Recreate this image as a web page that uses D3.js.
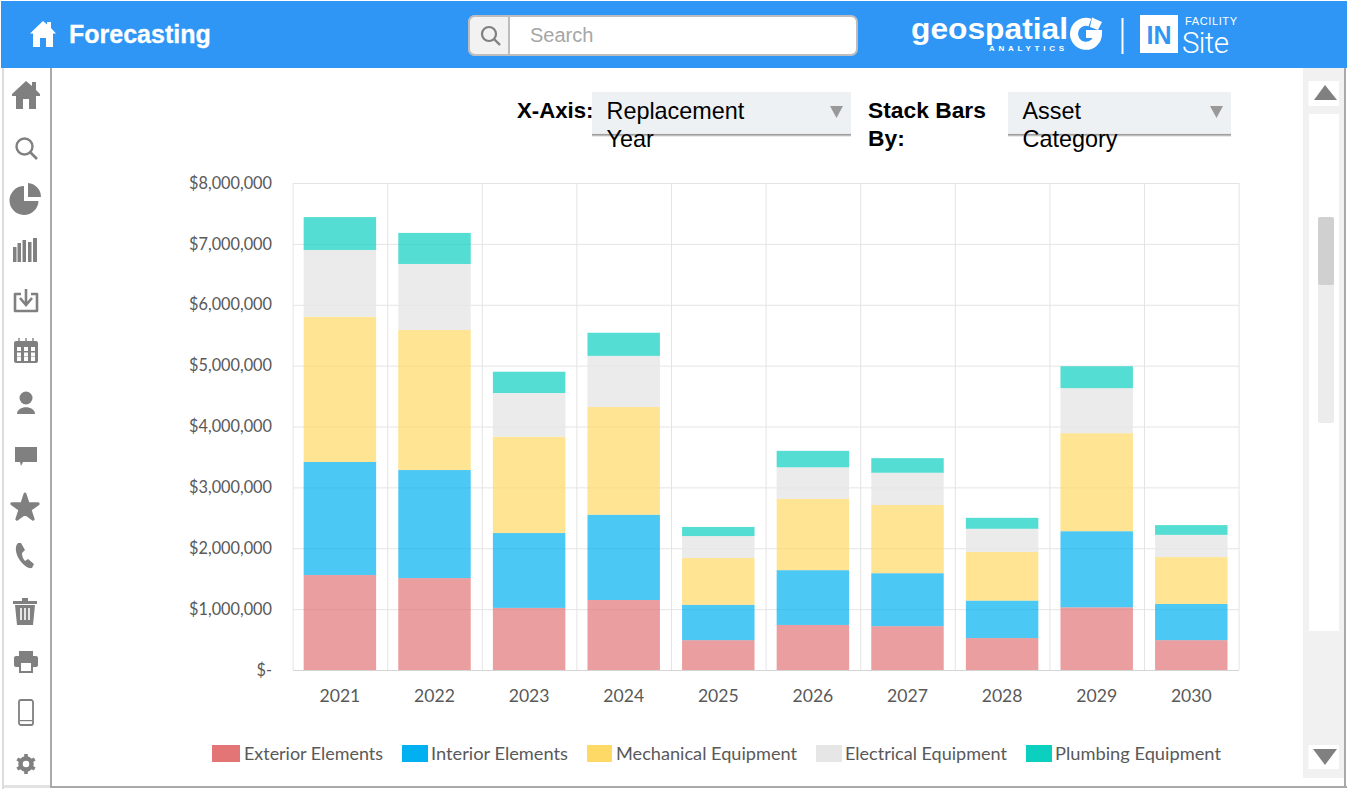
<!DOCTYPE html>
<html><head><meta charset="utf-8">
<script src="https://cdn.jsdelivr.net/npm/d3@7/dist/d3.min.js"></script>
<style>
html,body{margin:0;padding:0;background:#fff;overflow:hidden}
svg{display:block}
.ui{font-family:"Liberation Sans",Arial,sans-serif}
.chart text{font-family:Lato,sans-serif}
</style></head><body>
<svg id="c" width="1347" height="789" viewBox="0 0 1347 789"></svg>
<script>
const years = ["2021","2022","2023","2024","2025","2026","2027","2028","2029","2030"];
const seriesNames = ["Exterior Elements","Interior Elements","Mechanical Equipment","Electrical Equipment","Plumbing Equipment"];
const exterior   = [1560000,1510000,1020000,1150000,490000,740000,720000,525000,1030000,490000];
const interior   = [1857000,1775000,1230000,1400000,580000,900000,870000,615000,1250000,595000];
const mechanical = [2383000,2300000,1580000,1770000,770000,1170000,1120000,800000,1610000,770000];
const electrical = [1100000,1085000,720000,840000,360000,520000,530000,380000,740000,365000];
const plumbing   = [540000,510000,350000,380000,150000,270000,240000,180000,360000,160000];
const yTicks = [0,1000000,2000000,3000000,4000000,5000000,6000000,7000000,8000000];
const legendColors = ["#e37576","#00b0f0","#ffd966","#e7e6e6","#0bcfbf"];
const seriesValues = [exterior,interior,mechanical,electrical,plumbing];

const svg = d3.select("#c");
const rows = years.map((y,i)=>{const r={year:y};seriesNames.forEach((n,k)=>r[n]=seriesValues[k][i]);return r;});
const x = d3.scaleBand().domain(years).range([292.6,1238.6]).paddingInner(0.234).paddingOuter(0.117);
const band = d3.scaleBand().domain(years).range([292.6,1238.6]).padding(0);
const y = d3.scaleLinear().domain([0,8000000]).range([670,183]);

/* ---------- page frame ---------- */
const rect=(g,a,b,w,h,f)=>g.append("rect").attr("x",a).attr("y",b).attr("width",w).attr("height",h).attr("fill",f);
const frame = svg.append("g");
rect(frame,0,0,1347,789,"#fff");
rect(frame,1303,68,41,710,"#f1f1f1");
rect(frame,2,68,2,721,"#dcdcdc");
rect(frame,50,68,2,720,"#a9a9a9");
rect(frame,4,785,46,3,"#e2e2e2");
rect(frame,50,786,1297,2,"#a9a9a9");
rect(frame,1344,68,2,720,"#a9a9a9");
rect(frame,1,1,1346,67,"#2f96f5");

/* ---------- scrollbar ---------- */
const sb = svg.append("g");
rect(sb,1308.5,81,30.5,25,"#fff");
rect(sb,1309,114,30,517,"#fff");
rect(sb,1318,217,16,206,"#ececec").attr("rx",2);
rect(sb,1318,217,16,68,"#d0d0d0").attr("rx",2);
rect(sb,1308.5,745,30.5,24,"#fff");
sb.append("path").attr("d","M1314 100L1325 85L1337 100Z").attr("fill","#808080");
sb.append("path").attr("d","M1313 749H1337L1325 765Z").attr("fill","#808080");

/* ---------- header ---------- */
const hd = svg.append("g").attr("class","ui");
const homeD = "M13 0L17 3.5V1H21V7L26 12.5L23 12.5V26H16V17H10V26H3V12.5L0 12.5Z";
hd.append("path").attr("d",homeD).attr("transform","translate(30,21)").attr("fill","#fff");
hd.append("text").attr("x",69).attr("y",43).attr("font-size",25).attr("font-weight",700).attr("fill","#fff").attr("stroke","#fff").attr("stroke-width",.3).text("Forecasting");
rect(hd,469,16,388,39,"#fff").attr("rx",6).attr("stroke","#bdbdbd").attr("stroke-width",2);
hd.append("path").attr("d","M509 16H475a6 6 0 0 0 -6 6V49a6 6 0 0 0 6 6H509Z").attr("fill","#f2f2f2").attr("stroke","#bdbdbd").attr("stroke-width",2);
hd.append("circle").attr("cx",489).attr("cy",34).attr("r",7).attr("fill","none").attr("stroke","#808080").attr("stroke-width",2.2);
hd.append("line").attr("x1",494).attr("y1",39).attr("x2",500).attr("y2",45).attr("stroke","#808080").attr("stroke-width",2.4);
hd.append("text").attr("x",530).attr("y",42).attr("font-size",20).attr("fill","#a6a6a6").text("Search");
hd.append("text").attr("x",911).attr("y",39).attr("font-size",30).attr("font-weight",700).attr("fill","#fff").attr("textLength",157).attr("lengthAdjust","spacingAndGlyphs").text("geospatial");
hd.append("text").attr("x",989).attr("y",50.5).attr("font-size",8).attr("font-weight",700).attr("fill","#fff").attr("textLength",75).text("ANALYTICS");
hd.append("path").attr("d","M1090 22.5A12 12 0 1 0 1098 34H1086").attr("fill","none").attr("stroke","#fff").attr("stroke-width",8);
hd.append("path").attr("d","M1092 17.5L1102 22L1098 30L1090 27Z").attr("fill","#fff");
hd.append("line").attr("x1",1122.5).attr("y1",18).attr("x2",1122.5).attr("y2",54).attr("stroke","#fff").attr("stroke-width",2);
rect(hd,1140,15,38,38,"#fff");
hd.append("text").attr("x",1159).attr("y",44).attr("text-anchor","middle").attr("font-size",25).attr("font-weight",700).attr("fill","#2f96f5").text("IN");
hd.append("text").attr("x",1185).attr("y",24.5).attr("font-size",11).attr("fill","#fff").attr("textLength",52).text("FACILITY");
hd.append("text").attr("x",1182).attr("y",52.5).attr("font-size",29.5).attr("fill","#fff").attr("font-family","Roboto").attr("font-weight",300).attr("textLength",47).text("Site");

/* ---------- selectors ---------- */
const ctl = svg.append("g").attr("class","ui");
const dropdown=(bx,w,l1,l2)=>{
  rect(ctl,bx,135,w,1.5,"#d8d8d8");
  rect(ctl,bx,133.5,w,2,"#a0a0a0");
  rect(ctl,bx,92,w,41.8,"#eef1f4");
  ctl.append("path").attr("d",`M${bx+w-21} 106H${bx+w-8}L${bx+w-14.5} 118Z`).attr("fill","#999");
  ctl.append("text").attr("x",bx+14.5).attr("y",119).attr("font-size",23.4).attr("fill","#000").text(l1);
  ctl.append("text").attr("x",bx+14.5).attr("y",147).attr("font-size",23.4).attr("fill","#000").text(l2);
};
ctl.append("text").attr("x",517).attr("y",118).attr("font-size",22.2).attr("font-weight",700).attr("fill","#000").text("X-Axis:");
dropdown(592,259,"Replacement","Year");
ctl.append("text").attr("x",868).attr("y",118).attr("font-size",22.8).attr("font-weight",700).attr("fill","#000").text("Stack Bars");
ctl.append("text").attr("x",868).attr("y",146).attr("font-size",22.8).attr("font-weight",700).attr("fill","#000").text("By:");
dropdown(1008,223,"Asset","Category");

/* ---------- chart ---------- */
const ch = svg.append("g").attr("class","chart");
const gridColor="#e4e4e4";
ch.append("g").selectAll("line").data(yTicks).join("line")
  .attr("x1",293).attr("x2",1239).attr("y1",d=>y(d)+.5).attr("y2",d=>y(d)+.5)
  .attr("stroke",d=>d===0?"#d4d4d4":gridColor);
const vLines = years.map(v=>band(v)).concat([band.range()[1]]);
ch.append("g").selectAll("line").data(vLines).join("line")
  .attr("x1",d=>d+.5).attr("x2",d=>d+.5).attr("y1",183).attr("y2",670).attr("stroke",gridColor);

const stack = d3.stack().keys(seriesNames)(rows);
ch.append("g").selectAll("g").data(stack).join("g")
  .attr("fill",(d,i)=>legendColors[i]).attr("fill-opacity",(d,i)=>i===3?0.8:0.7)
  .selectAll("rect").data(d=>d).join("rect")
  .attr("x",d=>x(d.data.year)).attr("width",x.bandwidth())
  .attr("y",d=>y(d[1])).attr("height",d=>y(d[0])-y(d[1]));

const yAxis = d3.axisLeft(y).tickValues(yTicks).tickSize(0).tickPadding(21)
  .tickFormat(d=>d===0?"$-":"$"+d3.format(",")(d));
const yg = ch.append("g").attr("transform","translate(293,0)").call(yAxis);
yg.select(".domain").remove();
yg.selectAll("text").attr("font-size",16.3).attr("fill","#595959");
const xAxis = d3.axisBottom(band).tickSize(0).tickPadding(20);
const xg = ch.append("g").attr("transform","translate(0,670)").call(xAxis);
xg.select(".domain").remove();
xg.selectAll("text").attr("font-size",17.6).attr("fill","#595959");

/* legend */
const legendSwatch = [[212,28],[402,26],[587,25],[816,26],[1026,26]];
const legendText = [[244,139],[431,137],[616,181],[845,162],[1055,166]];
const lg = ch.append("g").selectAll("g").data(seriesNames).join("g");
lg.append("rect").attr("x",(d,i)=>legendSwatch[i][0]).attr("width",(d,i)=>legendSwatch[i][1])
  .attr("y",745).attr("height",17).attr("fill",(d,i)=>legendColors[i]);
lg.append("text").attr("x",(d,i)=>legendText[i][0]).attr("textLength",(d,i)=>legendText[i][1])
  .attr("lengthAdjust","spacingAndGlyphs")
  .attr("y",759.5).attr("font-size",17.5).attr("fill","#595959").text(d=>d);

/* ---------- sidebar icons ---------- */
const side = svg.append("g").attr("fill","#808080");
const at=(cx,cy)=>side.append("g").attr("transform",`translate(${cx},${cy})`);
let g;
g=at(26,95); g.append("path").attr("d","M0 -14L6 -9V-13H10V-5L14 -1L14 1H10V14H3V4H-3V14H-10V1H-14L-14 -1Z");
g=at(26,148); g.append("circle").attr("cx",-1.5).attr("cy",-1.5).attr("r",8).attr("fill","none").attr("stroke","#808080").attr("stroke-width",2.4);
g.append("line").attr("x1",4).attr("y1",4).attr("x2",11).attr("y2",11).attr("stroke","#808080").attr("stroke-width",2.6);
g=at(25,199); g.append("path").attr("d","M-1 -13V2H13.5A14.5 14.5 0 1 1 -1 -13Z");
g.append("path").attr("d","M3 -16A14 14 0 0 1 16 -2H3Z");
g=at(26,250); [[-13,-3,3.5],[-8.5,-7,3.5],[-3.5,-10,3.5],[2,-8,3.5],[7,-12,4]].forEach(b=>rect(g,b[0],b[1],b[2],12-b[1],"#808080"));
g=at(26,301); g.append("path").attr("d","M-5 -7H-11V10H11V-7H5").attr("fill","none").attr("stroke","#808080").attr("stroke-width",2.6).attr("stroke-linejoin","round");
g.append("path").attr("d","M0 -12V3M-6 -3L0 4L6 -3").attr("fill","none").attr("stroke","#808080").attr("stroke-width",2.6);
g=at(26,351); rect(g,-12,-10,24,22,"#808080").attr("rx",2);
[-7,0,7].forEach(a=>{[-2,3.5,8].forEach(b=>rect(g,a-2,b-2,4,4,"#fff"));rect(g,a-.7,-13,1.4,6,"#808080");});
g=at(26,403); g.append("circle").attr("cy",-5).attr("r",6.5); g.append("path").attr("d","M-9 11C-9 2 9 2 9 11Z");
g=at(26,456); g.append("path").attr("d","M-11 -9H11V6H-3L-5 10L-6 6H-11Z");
g=at(25,507); g.append("path").attr("d",d3.symbol(d3.symbolStar,215)()).attr("stroke","#808080").attr("stroke-width",3).attr("stroke-linejoin","round").attr("transform","translate(0,1)");
g=at(25,556); g.append("path").attr("d","M-7 -13C-10 -10 -10 -4 -6 3C-2 9 3 13 7 12L9 8L3 3L0 5C-2 3 -3 0 -3 -3L0 -6L-4 -13Z");
g=at(25,610); g.append("path").attr("d","M-12 -9H12V-6H-12ZM-10 -5H10L8 15H-8ZM-3 -12H3V-9H-3Z");
[-4,0,4].forEach(a=>rect(g,a-.8,-2,1.6,12,"#fff"));
g=at(26,661); rect(g,-12,-5,24,11,"#808080").attr("rx",2); rect(g,-7,-10,14,6,"#808080");
rect(g,-6,1,12,10,"#fff").attr("stroke","#808080").attr("stroke-width",2);
g=at(26,712); rect(g,-7,-12,14,25,"none").attr("rx",2).attr("stroke","#808080").attr("stroke-width",1.8); rect(g,-6,8,12,1.2,"#808080");
g=at(26,764); g.append("circle").attr("r",5.5).attr("fill","none").attr("stroke","#808080").attr("stroke-width",4.5);
d3.range(6).forEach(i=>rect(g,-1.8,-10,3.6,4,"#808080").attr("transform",`rotate(${i*60})`));
</script>
</body></html>
